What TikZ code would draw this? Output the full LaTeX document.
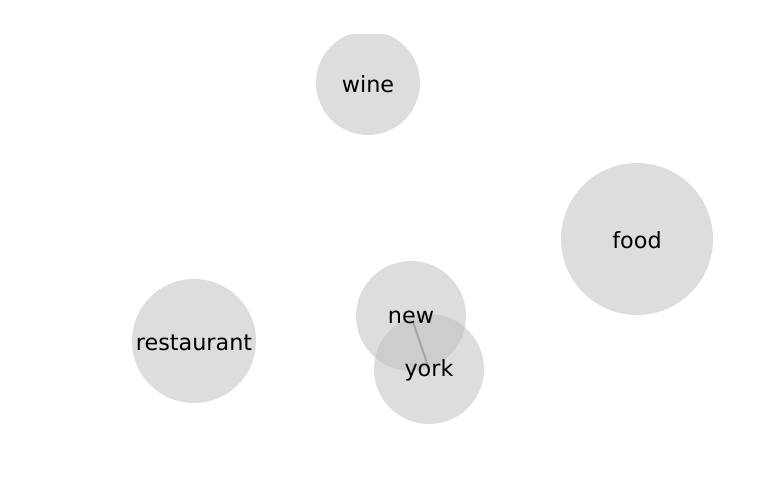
\documentclass[tikz,border=0pt]{standalone}
\usepackage{fontspec}
\setmainfont{DejaVu Sans}
\definecolor{bubble}{RGB}{188,188,188}
\definecolor{edgecol}{RGB}{165,165,165}
\begin{document}
\begin{tikzpicture}[x=1pt,y=-1pt,
  bub/.style={circle,fill=bubble,fill opacity=0.5,text opacity=1,draw=none,inner sep=0pt},
  lab/.style={font=\fontsize{22.3}{26}\selectfont,text=black,inner sep=0pt,yshift=-1.5pt},
  link/.style={draw=edgecol,line width=2pt}]
\useasboundingbox (0,0) rectangle (768,500);
\begin{scope}
\clip (0,35) rectangle (768,500);
\node[bub,minimum size=104pt] (wine) at (368,83) {};
\end{scope}
\node[bub,minimum size=152pt] (food) at (637,239) {};
\node[bub,minimum size=124pt] (restaurant) at (194,341) {};
\node[bub,minimum size=110pt] (new) at (411,316) {};
\node[bub,minimum size=110pt] (york) at (429,369) {};
\draw[link,shorten <=6pt,shorten >=4pt] (new.center) -- (york.center);
\node[lab] (twine) at (wine.center) {wine};
\node[lab] (tfood) at (food.center) {food};
\node[lab] (trest) at (restaurant.center) {restaurant};
\node[lab] (tnew) at (new.center) {new};
\node[lab] (tyork) at (york.center) {york};
\end{tikzpicture}
\end{document}
